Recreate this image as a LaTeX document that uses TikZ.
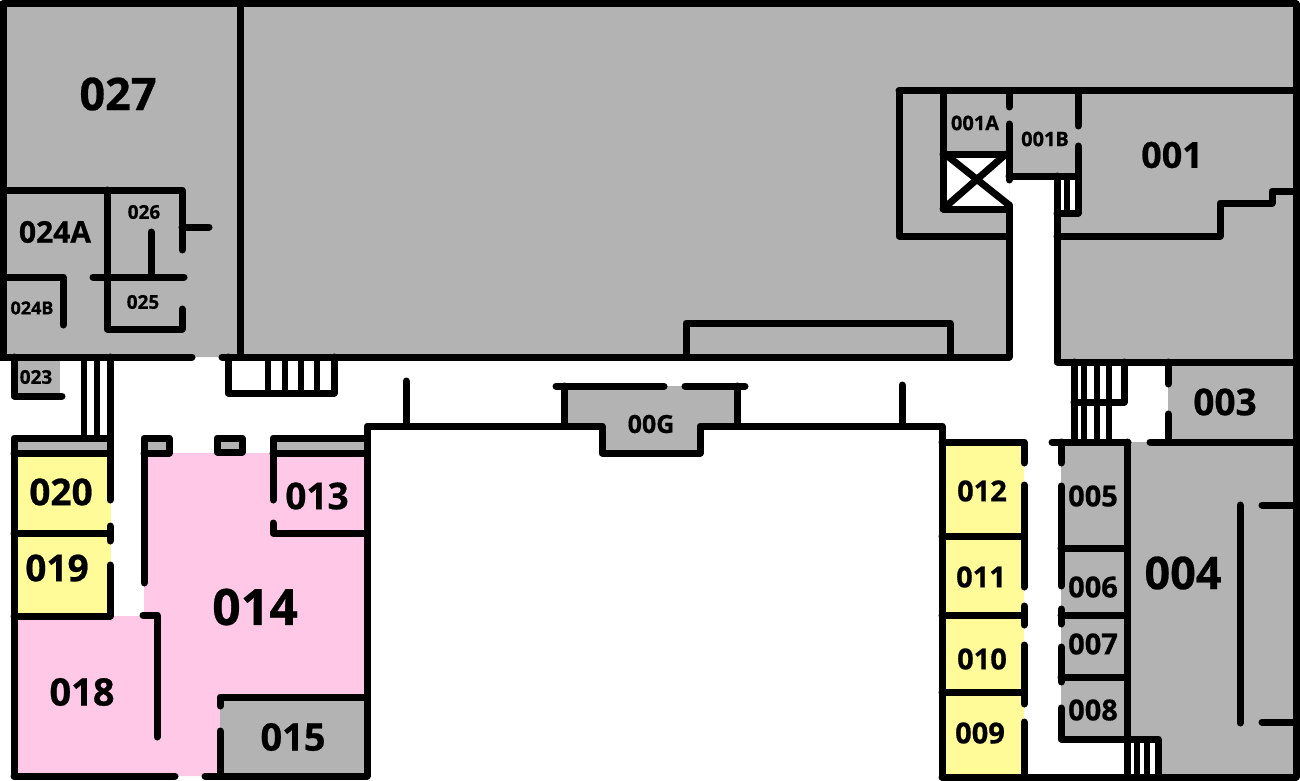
\documentclass[tikz,border=0pt]{standalone}
\usepackage{fontspec}
\setmainfont[BoldFeatures={FakeBold=0.6}]{Open Sans}
\definecolor{roomgray}{HTML}{B3B3B3}
\definecolor{roompink}{HTML}{FFC8E6}
\definecolor{roomyellow}{HTML}{FFFB99}
\tikzset{
  wall/.style={line width=7pt,line cap=round,line join=round,black},
  thin wall/.style={line width=5.5pt,line cap=butt,black},
  lab/.style={inner sep=0pt,anchor=center,font=\bfseries\fontsize{#1}{#1}\selectfont}
}
\begin{document}
\begin{tikzpicture}[x=1pt,y=-1pt]
\useasboundingbox (0,0) rectangle (1300,781);
% fills
\fill[roomgray] (3,4) -- (1296,4) -- (1296,362) -- (1057,362) -- (1057,176) -- (1009,176) -- (1009,357) -- (3,357) -- cycle;
\fill[white] (943,154) rectangle (1009,208);
\fill[white] (1057,176) rectangle (1078,213);
\fill[roomgray] (14,357) rectangle (60,394);
\fill[roomgray] (1168,362) rectangle (1296,442);
\fill[roomgray] (1128,442) rectangle (1296,777);
\fill[white] (1127,739) rectangle (1158,777);
\fill[roomgray] (1061,442) rectangle (1127,739);
\fill[roomgray] (564,386) -- (737,386) -- (737,426) -- (700,426) -- (700,455) -- (602,455) -- (602,426) -- (564,426) -- cycle;
\fill[roomgray] (14,438) rectangle (110,453);
\fill[roomgray] (144,438) rectangle (169,453);
\fill[roomgray] (217,438) rectangle (242,452);
\fill[roomgray] (273,438) rectangle (367,453);
\fill[roomyellow] (14,453) rectangle (111,616);
\fill[roomyellow] (943,442) rectangle (1024,777);
\fill[roompink] (144,453) -- (367,453) -- (367,697) -- (220,697) -- (220,776) -- (14,776) -- (14,616) -- (144,616) -- cycle;
\fill[roomgray] (220,697) rectangle (367,776);
% outer and 027 block
\draw[wall] (0,357) -- (3,357) -- (3,4) -- (1296,4) -- (1296,362) -- (1057,362) -- (1057,176);
\draw[wall] (240,4) -- (240,357);
\draw[wall] (3,357) -- (192,357);
\draw[wall] (222,357) -- (1009,357);
% 024 / 025 / 026
\draw[wall] (3,190) -- (182,190) -- (182,250);
\draw[wall] (182,227) -- (209,227);
\draw[wall] (107,190) -- (107,329) -- (182,329) -- (182,309);
\draw[wall] (93,277) -- (184,277);
\draw[wall] (151,232) -- (151,277);
\draw[wall] (3,277) -- (63,277) -- (63,325);
% 023
\draw[wall] (14,357) -- (14,396) -- (62,396);
% left stairs
\draw[thin wall] (84,357) -- (84,438);
\draw[thin wall] (97,357) -- (97,438);
\draw[wall] (110,357) -- (110,500);
% bottom stairs
\draw[wall] (228,357) -- (228,393) -- (334,393) -- (334,357);
\draw[thin wall] (268,357) -- (268,393);
\draw[thin wall] (285,357) -- (285,393);
\draw[thin wall] (301,357) -- (301,393);
\draw[thin wall] (317,357) -- (317,393);
% 019 / 020
\draw[wall] (14,776) -- (14,438) -- (110,438);
\draw[wall] (14,453) -- (110,453);
\draw[wall] (14,533) -- (110,533);
\draw[wall] (110,526) -- (110,541);
\draw[wall] (110,565) -- (110,616) -- (14,616);
% 014 top
\draw[wall] (144,583) -- (144,438) -- (169,438) -- (169,453) -- (144,453);
\draw[wall] (217,438) rectangle (242,452);
\draw[wall] (273,500) -- (273,438) -- (367,438);
\draw[wall] (273,453) -- (367,453);
\draw[wall] (273,523) -- (273,533) -- (367,533);
\draw[wall] (143,615) -- (157,615) -- (157,737);
% 015
\draw[wall] (220,706) -- (220,697) -- (367,697);
\draw[wall] (220,731) -- (220,776);
\draw[wall] (14,776) -- (175,776);
\draw[wall] (205,776) -- (367,776);
% center
\draw[wall] (367,776) -- (367,426) -- (602,426) -- (602,453) -- (700,453) -- (700,426) -- (942,426) -- (942,777);
\draw[wall] (564,386) -- (564,426);
\draw[wall] (737,386) -- (737,426);
\draw[wall] (556,386) -- (664,386);
\draw[wall] (685,386) -- (745,386);
\draw[wall] (406,381) -- (406,426);
\draw[wall] (902,385) -- (902,426);
\draw[wall] (686,357) -- (686,323) -- (950,323) -- (950,357);
% 001 cluster
\draw[wall] (899,91) -- (1296,91);
\draw[wall] (899,91) -- (899,236) -- (1009,236);
\draw[wall] (943,91) -- (943,209) -- (1009,209);
\draw[wall] (943,154) -- (1009,154);
\draw[wall] (943,209) -- (1006,154);
\draw[wall] (945,154) -- (1009,205);
\draw[wall] (1009,91) -- (1009,107);
\draw[wall] (1009,124) -- (1009,180);
\draw[wall] (1009,205) -- (1009,357);
\draw[wall] (1009,176) -- (1078,176);
\draw[wall] (1078,91) -- (1078,126);
\draw[wall] (1078,146) -- (1078,213) -- (1057,213);
\draw[thin wall] (1067,176) -- (1067,213);
\draw[wall] (1057,236) -- (1220,236) -- (1220,203) -- (1272,203) -- (1272,191) -- (1296,191);
% right stairs
\draw[wall] (1074,362) -- (1074,442);
\draw[thin wall] (1084,362) -- (1084,442);
\draw[thin wall] (1097,362) -- (1097,442);
\draw[thin wall] (1109,362) -- (1109,442);
\draw[wall] (1074,402) -- (1124,402) -- (1124,362);
% 003
\draw[wall] (1168,362) -- (1168,384);
\draw[wall] (1168,414) -- (1168,442);
\draw[wall] (1052,442) -- (1128,442);
\draw[wall] (1150,442) -- (1296,442);
\draw[wall] (1296,362) -- (1296,777);
% 005-008
\draw[wall] (1061,442) -- (1061,463);
\draw[wall] (1061,486) -- (1061,586);
\draw[wall] (1061,609) -- (1061,624);
\draw[wall] (1061,647) -- (1061,682);
\draw[wall] (1061,708) -- (1061,739) -- (1158,739) -- (1158,777);
\draw[wall] (1061,548) -- (1127,548);
\draw[wall] (1061,615) -- (1127,615);
\draw[wall] (1061,677) -- (1127,677);
\draw[wall] (1127,442) -- (1127,777);
\draw[thin wall] (1137,739) -- (1137,777);
\draw[thin wall] (1147,739) -- (1147,777);
% 004
\draw[wall] (1240,505) -- (1240,723);
\draw[wall] (1262,505) -- (1296,505);
\draw[wall] (1262,722) -- (1296,722);
% 009-012
\draw[wall] (942,442) -- (1024,442) -- (1024,463);
\draw[wall] (1024,485) -- (1024,587);
\draw[wall] (1024,606) -- (1024,625);
\draw[wall] (1024,645) -- (1024,704);
\draw[wall] (1024,722) -- (1024,777);
\draw[wall] (942,536) -- (1024,536);
\draw[wall] (942,615) -- (1024,615);
\draw[wall] (942,692) -- (1024,692);
\draw[wall] (942,777) -- (1296,777);
% labels
\node[lab=45] (r027) at (118,94) {027};
\node[lab=30] (r024a) at (55,232) {024A};
\node[lab=19] (r026) at (144,212) {026};
\node[lab=19] (r025) at (143,302) {025};
\node[lab=18] (r024b) at (32,308) {024B};
\node[lab=19] (r023) at (36,377) {023};
\node[lab=37] (r020) at (61,492) {020};
\node[lab=37] (r019) at (57,568) {019};
\node[lab=38] (r018) at (82,692) {018};
\node[lab=50] (r014) at (255,607) {014};
\node[lab=37] (r013) at (317,496) {013};
\node[lab=38] (r015) at (293,737) {015};
\node[lab=25] (r00g) at (651,424) {00G};
\node[lab=20] (r001a) at (975,123) {001A};
\node[lab=20] (r001b) at (1045,139) {001B};
\node[lab=36] (r001) at (1172,155) {001};
\node[lab=37] (r003) at (1225,402) {003};
\node[lab=45] (r004) at (1183,573) {004};
\node[lab=29] (r005) at (1093,496) {005};
\node[lab=29] (r006) at (1093,587) {006};
\node[lab=29] (r007) at (1093,644) {007};
\node[lab=29] (r008) at (1093,710) {008};
\node[lab=29] (r012) at (982,491) {012};
\node[lab=29] (r011) at (981,577) {011};
\node[lab=29] (r010) at (982,659) {010};
\node[lab=29] (r009) at (980,733) {009};
\end{tikzpicture}
\end{document}
